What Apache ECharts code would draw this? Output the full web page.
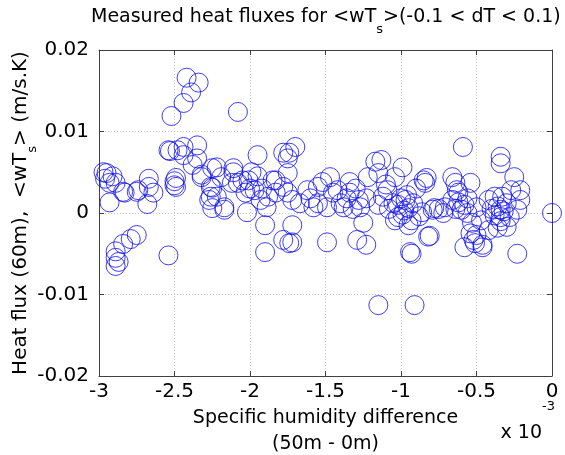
<!DOCTYPE html>
<html>
<head>
<meta charset="utf-8">
<script src="https://cdn.jsdelivr.net/npm/echarts@6/dist/echarts.min.js"></script>
<style>html,body{margin:0;padding:0;background:#fff}#c{width:565px;height:455px}</style>
</head>
<body>
<div id="c"></div>
<script>
// x values in units of 1e-3 (specific humidity difference), y values heat flux (m/s.K)
const xVals = [
-2.95,-2.91,-2.96,-2.93,-2.89,-2.83,-2.93,-2.74,-2.67,-2.67,-2.64,-2.68,-2.50,-2.50,-2.53,-2.48,-2.44,-2.97,-2.84,-2.75,
-2.75,-2.79,-2.84,-2.89,-2.89,-2.87,-2.89,-2.54,
-2.42,-2.34,-2.39,-2.44,-2.52,-2.08,-2.54,-2.44,-2.35,-2.35,-2.38,-2.32,-2.25,-2.49,-2.49,
-1.95,-1.78,-1.75,-2.25,-2.26,-2.25,-2.17,-2.11,-2.12,-2.22,-2.32,-2.26,-2.19,-2.11,-2.08,-2.22,-2.27,-2.17,
-1.99,-2.01,-1.97,-2.03,-1.93,-2.02,-1.89,-1.90,-1.90,-1.83,-1.83,-1.78,-1.74,
-1.70,-1.74,-1.75,-1.78,-1.75,-1.72,-1.67,-1.72,-1.72,-1.60,-1.58,-1.49,-1.45,-1.42,-1.47,-1.38,-1.34,-1.28,-1.27,-1.23,
-1.25,-1.29,-1.23,-1.49,-1.22,-1.17,-1.34,-1.52,-1.55,
-1.15,-0.91,-0.94,-0.93,-0.81,-0.23,-0.46,-0.52,-0.50,0.00,
-0.59,-1.13,-0.99,-0.85,-0.83,-0.84,-1.09,-1.15,-1.04,-0.97,-1.02,-0.95,-0.99,-1.04,-0.93,-0.86,-0.79,-0.82,
-0.66,-0.64,-0.63,-0.66,-0.62,-0.71,-0.60,-0.56,-0.53,-0.54,-0.58,
-0.34,-0.34,-0.25,-0.27,-0.21,-0.23,-0.34,-0.34,-0.30,-0.46,-0.51,-0.42,-0.38,-0.50,-0.47,-0.42,-0.54,-0.21,
-1.00,-0.96,-1.05,-0.98,-1.02,-0.92,-0.90,-1.08,-0.95,-0.88,
-0.36,-0.32,-0.38,-0.34,-0.30,-0.40,-0.36,-0.28,-0.33,
-0.62,-0.58,-0.64,-0.56,
-1.40,-1.32,-1.30,-1.36,
-1.92,-1.88,-1.85,-2.05,-2.00,-1.95,
-1.12,-1.15,-1.10,-0.75,-0.72,-0.78,-1.62,-1.55
];
const yVals = [
0.0049,0.0045,0.0042,0.0037,0.0037,0.0025,0.0013,0.0028,0.0042,0.0032,0.0025,0.0011,0.0039,0.0034,0.0076,0.0077,0.0071,0.0050,0.0026,0.0026,
-0.0027,-0.0032,-0.0038,-0.0047,-0.0055,-0.0060,-0.0065,-0.0052,
0.0166,0.0160,0.0148,0.0135,0.0119,0.0124,0.0077,0.0081,0.0083,0.0067,0.0059,0.0047,0.0055,0.0043,0.0032,
0.0071,0.0074,0.0067,0.0031,0.0020,0.0006,0.0007,0.0055,0.0037,0.0056,0.0044,0.0032,0.0044,0.0050,0.0037,0.0020,0.0016,0.0004,
0.0050,0.0040,0.0028,0.0025,0.0016,0.0001,0.0007,-0.0015,-0.0048,0.0040,0.0025,-0.0033,-0.0037,
0.0081,0.0074,0.0049,0.0032,0.0025,0.0016,0.0012,-0.0015,-0.0036,0.0018,0.0007,0.0007,0.0025,0.0028,0.0044,0.0007,0.0025,0.0016,0.0007,0.0018,
-0.0012,-0.0033,-0.0039,-0.0036,0.0044,0.0063,0.0038,0.0038,0.0032,
-0.0113,-0.0113,-0.0048,-0.0050,-0.0028,-0.0050,-0.0039,-0.0033,-0.0027,0.0000,
0.0081,0.0065,0.0056,0.0040,0.0043,0.0037,0.0028,0.0049,0.0044,0.0016,0.0010,0.0006,-0.0002,-0.0009,-0.0009,0.0001,0.0004,-0.0029,
0.0044,0.0037,0.0028,0.0016,0.0013,0.0007,0.0004,0.0000,-0.0012,-0.0025,-0.0042,
0.0069,0.0061,0.0044,0.0028,0.0016,0.0004,0.0004,-0.0005,-0.0017,-0.0042,-0.0037,0.0016,0.0020,0.0007,-0.0009,-0.0021,0.0037,0.0028,
0.0018,0.0022,0.0012,0.0003,-0.0005,0.0012,0.0030,0.0005,-0.0015,-0.0004,
0.0008,0.0002,-0.0003,-0.0010,0.0012,0.0005,-0.0018,-0.0005,0.0020,
0.0025,0.0010,0.0005,0.0018,
0.0012,0.0005,0.0030,0.0018,
0.0030,0.0020,0.0040,0.0040,0.0030,0.0045,
0.0020,0.0010,0.0035,0.0005,0.0000,0.0006,0.0028,0.0012
];
const xTicks = [-3,-2.5,-2,-1.5,-1,-0.5,0];
const yTicks = [-0.02,-0.01,0,0.01,0.02];

const FONT = 'DejaVu Sans';
const chart = echarts.init(document.getElementById('c'), null, {renderer:'canvas'});
const data = xVals.map((x,i)=>[x,yVals[i]]);
const gridLine = {show:true, lineStyle:{color:'#c8c8c8', type:[1,2], width:1}};
const axLine = {show:true, onZero:false, lineStyle:{color:'#404040', width:1}};
const tick = {show:true, inside:true, length:5, lineStyle:{color:'#404040'}};
const fmt = v => String(parseFloat(v.toFixed(4)));
chart.setOption({
  animation:false,
  backgroundColor:'#fff',
  title:{
    text:'{n|Measured heat fluxes for <wT}{s|s}{n|>(-0.1 < dT < 0.1)}',
    left:86, top:3,
    textStyle:{fontWeight:'normal', rich:{
      n:{fontFamily:FONT, fontSize:19, fontWeight:'normal', color:'#000', lineHeight:26, verticalAlign:'top'},
      s:{fontFamily:FONT, fontSize:13, fontWeight:'normal', color:'#000', lineHeight:13, padding:[15,0,0,0], verticalAlign:'top'}
    }}
  },
  grid:{left:99, right:13, top:50, bottom:79, containLabel:false, outerBoundsMode:'none'},
  xAxis:[{
    type:'value', min:xTicks[0], max:xTicks[xTicks.length-1], interval:0.5,
    axisLine:axLine, axisTick:tick, splitLine:gridLine,
    axisLabel:{fontFamily:FONT, fontSize:20, color:'#000', margin:6, formatter:fmt},
    name:'Specific humidity difference\n(50m - 0m)', nameLocation:'middle', nameGap:29, nameMoveOverlap:false,
    nameTextStyle:{fontFamily:FONT, fontSize:19, color:'#000', lineHeight:26}
  },{
    type:'value', position:'top', min:xTicks[0], max:xTicks[xTicks.length-1], interval:0.5,
    axisLine:axLine, axisTick:tick, splitLine:{show:false}, axisLabel:{show:false}
  }],
  yAxis:[{
    type:'value', min:yTicks[0], max:yTicks[yTicks.length-1], interval:0.01,
    axisLine:axLine, axisTick:tick, splitLine:gridLine,
    axisLabel:{fontFamily:FONT, fontSize:20, color:'#000', margin:10, formatter:fmt},
    name:'{n|Heat flux (60m),  <wT}{s|s}{n|> (m/s.K)}', nameLocation:'middle', nameGap:62, nameMoveOverlap:false,
    nameTextStyle:{rich:{
      n:{fontFamily:FONT, fontSize:20, color:'#000', lineHeight:26, verticalAlign:'top'},
      s:{fontFamily:FONT, fontSize:13, color:'#000', lineHeight:13, padding:[15,0,0,0], verticalAlign:'top'}
    }}
  },{
    type:'value', position:'right', min:yTicks[0], max:yTicks[yTicks.length-1], interval:0.01,
    axisLine:axLine, axisTick:tick, splitLine:{show:false}, axisLabel:{show:false}
  }],
  graphic:[{
    type:'text', right:10, top:400,
    style:{
      text:'{n|x 10}{p|-3}',
      rich:{
        n:{fontFamily:FONT, fontSize:19, fill:'#000', lineHeight:36, verticalAlign:'bottom'},
        p:{fontFamily:FONT, fontSize:13, fill:'#000', lineHeight:13, padding:[0,0,30,0], verticalAlign:'bottom'}
      }
    }
  }],
  series:[{
    type:'scatter', data:data, symbol:'circle', symbolSize:19,
    itemStyle:{color:'rgba(0,0,0,0)', borderColor:'#1010ee', borderWidth:1},
    emphasis:{disabled:true}
  }]
});
</script>
</body>
</html>
